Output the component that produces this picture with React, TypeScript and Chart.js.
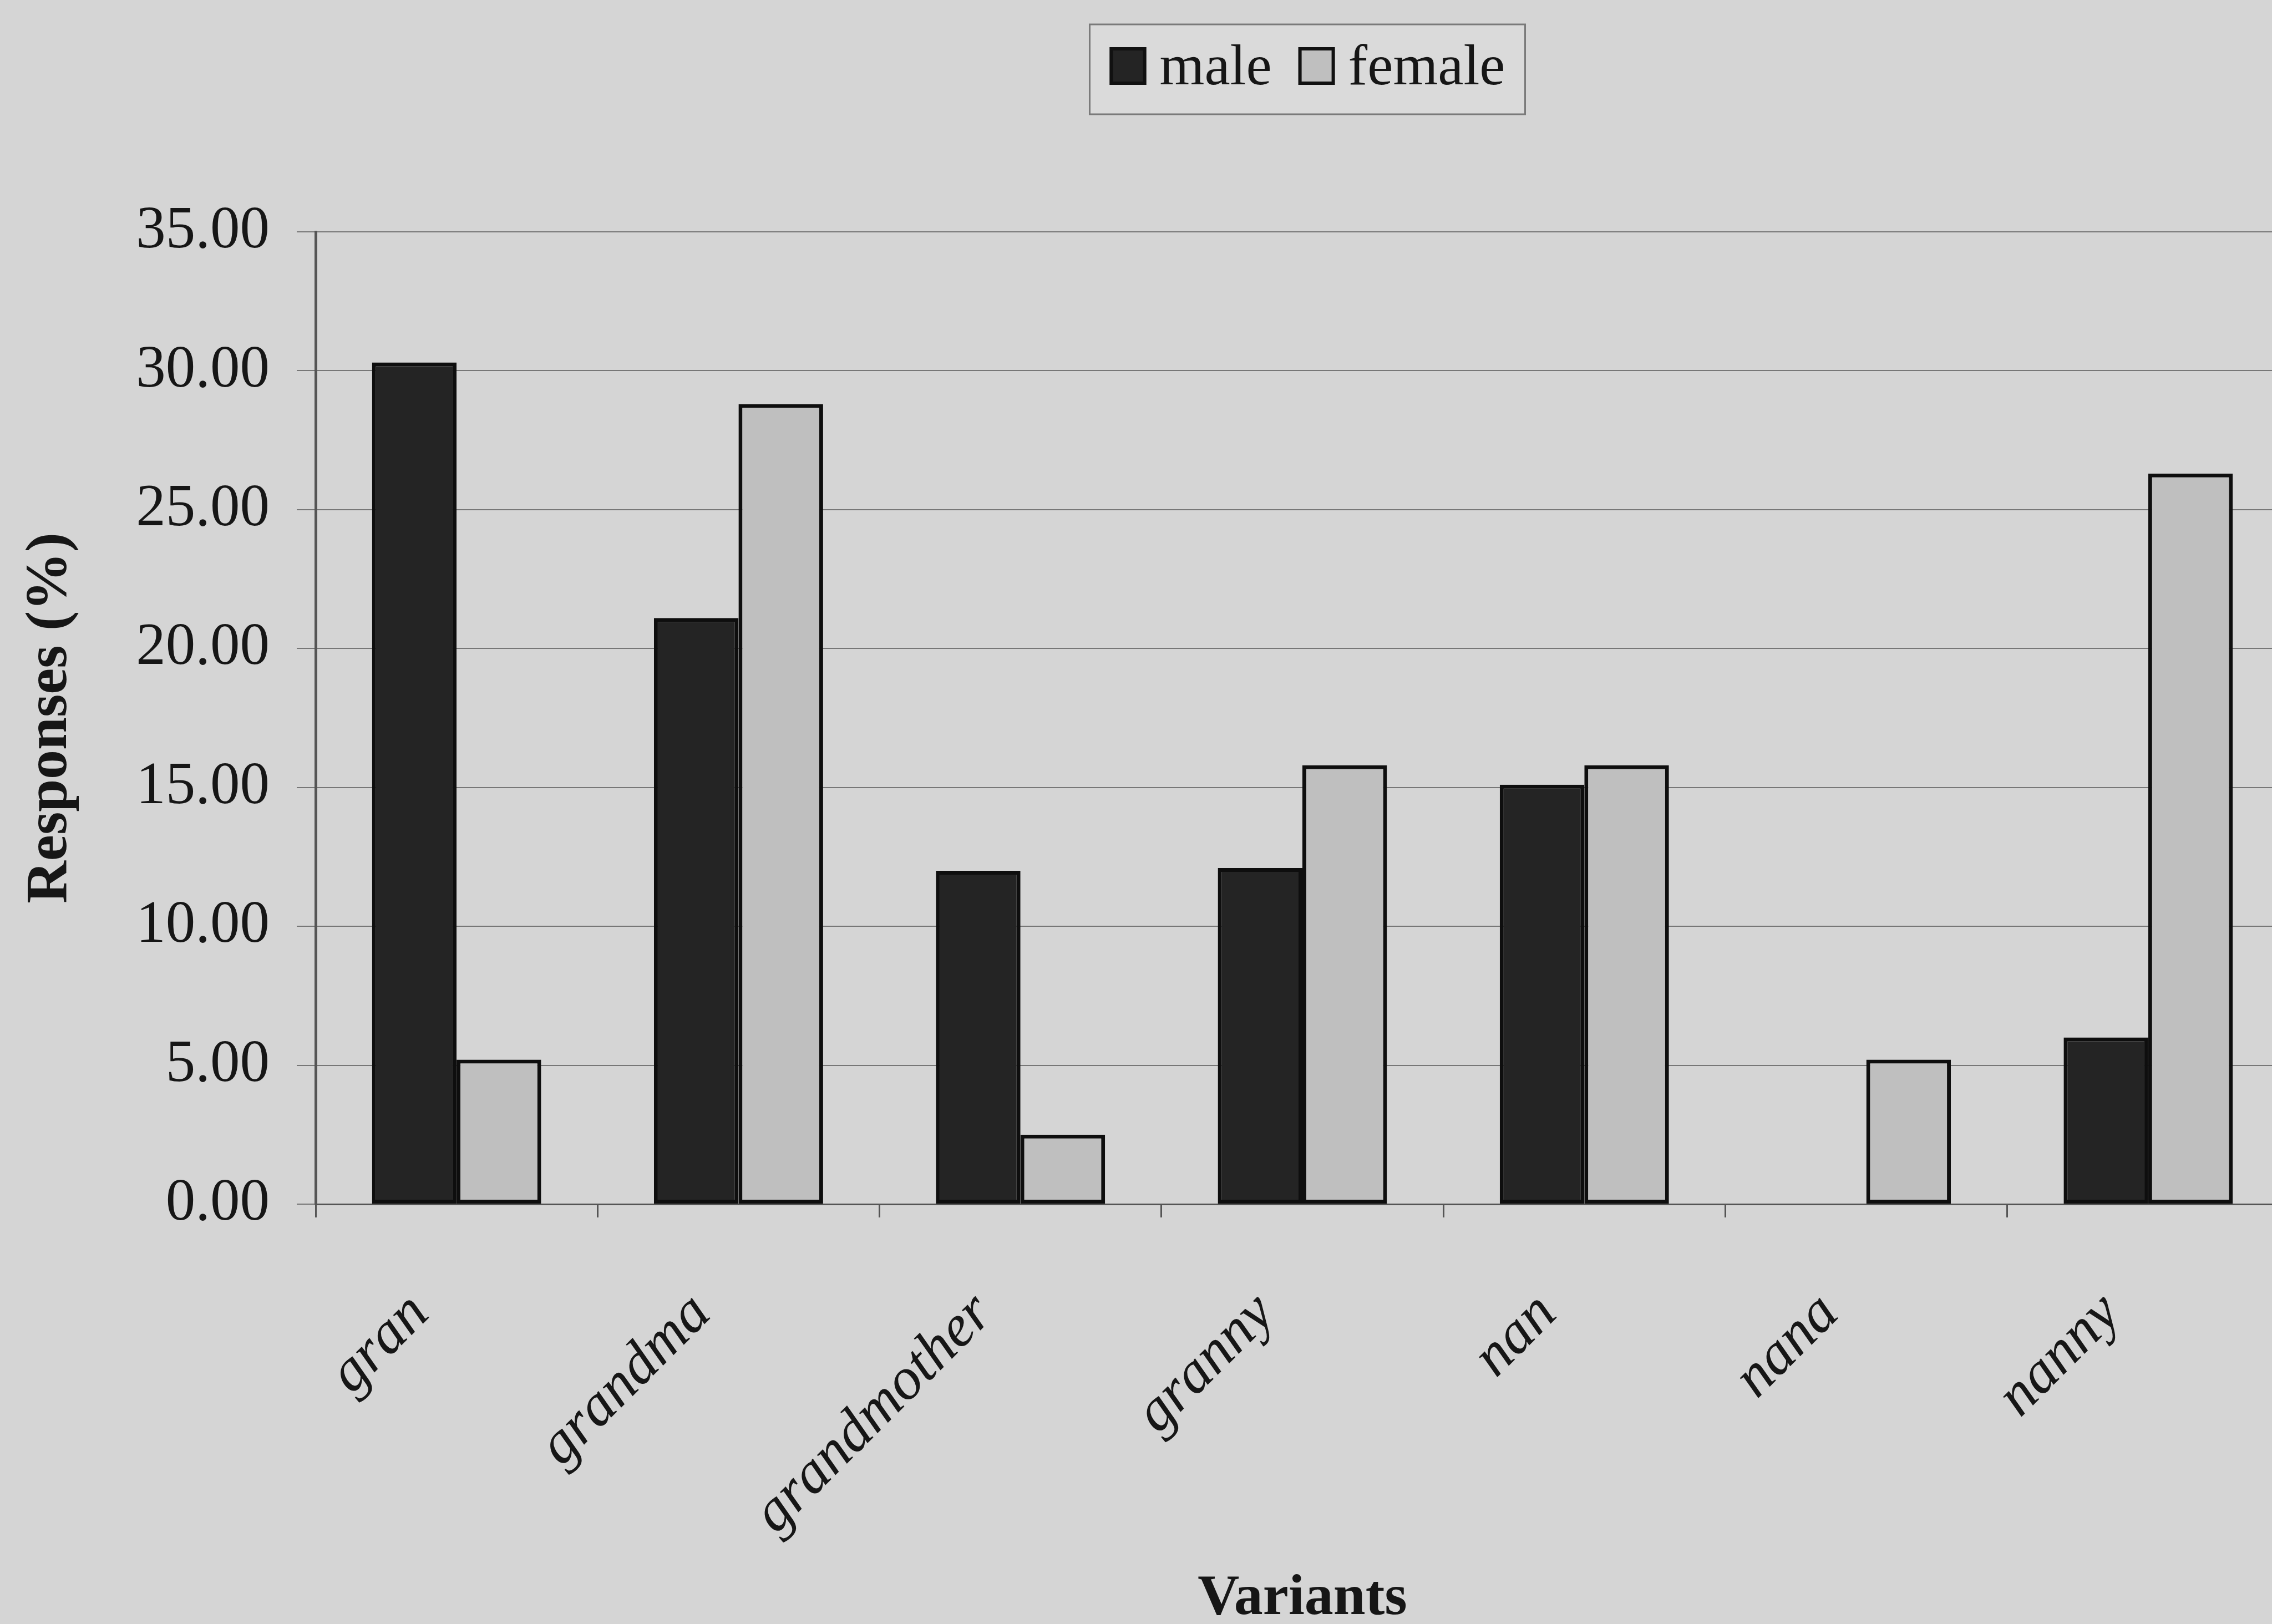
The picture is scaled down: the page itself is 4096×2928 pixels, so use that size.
import React, { useEffect, useRef } from "react";
import { Chart, registerables } from "chart.js";

Chart.register(...registerables);

// Responses (%) per variant, split by speaker sex
const variants = ["gran", "grandma", "grandmother", "granny", "nan", "nana", "nanny"];
const maleResponses = [30.3, 21.1, 12.0, 12.1, 15.1, 0, 6.0];
const femaleResponses = [5.2, 28.8, 2.5, 15.8, 15.8, 5.2, 26.3];
const seriesLabels = ["male", "female"];
const yTickValues = [0, 5, 10, 15, 20, 25, 30, 35];

const SERIF = '"Liberation Serif", "Times New Roman", serif';
const INK = "#161616";
const PAPER = "#d5d5d5";

const CANVAS_W = 4160;
const CANVAS_H = 2960;
const AXIS_X = 569; // left edge of plot area
const PLOT_TOP = 418;
const PLOT_BOTTOM = 2171;
const PLOT_RIGHT = 4127;

// Boxed legend centred over the plot area
const boxedLegend = {
  id: "boxedLegend",
  afterDraw(chart: any) {
    const { ctx, chartArea } = chart;
    const fontSize = 104;
    ctx.save();
    ctx.font = `${fontSize}px ${SERIF}`;
    const items = chart.data.datasets.map((ds: any) => ({
      label: ds.label as string,
      fill: ds.backgroundColor as string,
      w: ctx.measureText(ds.label).width,
    }));
    const sw = 66;
    const sh = 68;
    const gapText = 24;
    const gapItem = 48;
    const padX = 36;
    const content =
      items.reduce((s: number, it: any) => s + sw + gapText + it.w, 0) +
      gapItem * (items.length - 1);
    const boxW = content + padX * 2;
    const cx = (chartArea.left + chartArea.right) / 2 + 9;
    const left = cx - boxW / 2;
    const top = 44;
    const height = 162;
    const midY = top + height / 2;

    ctx.fillStyle = "#dadada";
    ctx.fillRect(left, top, boxW, height);
    ctx.strokeStyle = "#7a7a7a";
    ctx.lineWidth = 3;
    ctx.strokeRect(left, top, boxW, height);

    let x = left + padX;
    items.forEach((it: any) => {
      ctx.fillStyle = it.fill;
      ctx.fillRect(x, midY - sh / 2 - 6, sw, sh);
      ctx.strokeStyle = "#111";
      ctx.lineWidth = 6;
      ctx.strokeRect(x + 3, midY - sh / 2 - 6 + 3, sw - 6, sh - 6);
      x += sw + gapText;
      ctx.fillStyle = INK;
      ctx.textAlign = "left";
      ctx.textBaseline = "middle";
      ctx.fillText(it.label, x, midY);
      x += it.w + gapItem;
    });
    ctx.restore();
  },
};

export default function App() {
  const canvasRef = useRef<HTMLCanvasElement | null>(null);

  useEffect(() => {
    if (!canvasRef.current) return;
    const chart = new Chart(canvasRef.current, {
      type: "bar",
      data: {
        labels: variants,
        datasets: [
          {
            label: seriesLabels[0],
            data: maleResponses,
            backgroundColor: "#242424",
            borderColor: "#0e0e0e",
            borderWidth: 7,
            borderSkipped: false,
            barPercentage: 1,
            categoryPercentage: 0.6,
          },
          {
            label: seriesLabels[1],
            data: femaleResponses,
            backgroundColor: "#bfbfbf",
            borderColor: "#0e0e0e",
            borderWidth: 7,
            borderSkipped: false,
            barPercentage: 1,
            categoryPercentage: 0.6,
          },
        ],
      },
      options: {
        animation: false,
        responsive: true,
        maintainAspectRatio: false,
        devicePixelRatio: 1,
        layout: {
          padding: { top: PLOT_TOP, right: CANVAS_W - PLOT_RIGHT, left: 0, bottom: 0 },
        },
        plugins: {
          legend: { display: false },
          tooltip: { enabled: false },
        },
        scales: {
          x: {
            afterFit: (s: any) => {
              s.height = CANVAS_H - PLOT_BOTTOM;
            },
            ticks: {
              autoSkip: false,
              maxRotation: 45,
              minRotation: 45,
              padding: 112,
              labelOffset: -66,
              color: INK,
              font: { family: SERIF, size: 107, style: "italic" },
            },
            grid: {
              drawOnChartArea: false,
              offset: true,
              tickLength: 24,
              color: "#555555",
              lineWidth: 3,
            },
            border: { color: "#555555", width: 3 },
            title: {
              display: true,
              text: "Variants",
              color: INK,
              font: { family: SERIF, size: 104, weight: "bold", lineHeight: 1.2 },
              padding: { top: 0, bottom: 14 },
            },
          },
          y: {
            min: 0,
            max: 35,
            afterFit: (s: any) => {
              s.width = AXIS_X;
            },
            afterBuildTicks: (s: any) => {
              s.ticks = yTickValues.map((v) => ({ value: v }));
            },
            ticks: {
              padding: 49,
              color: INK,
              font: { family: SERIF, size: 107 },
              callback: (v: any) => Number(v).toFixed(2),
            },
            grid: {
              color: "#777777",
              lineWidth: 2,
              tickLength: 34,
            },
            border: { color: "#555555", width: 5 },
            title: {
              display: true,
              text: "Responses (%)",
              color: INK,
              font: { family: SERIF, size: 106, weight: "bold", lineHeight: 1.2 },
              padding: { top: 28, bottom: 0 },
            },
          },
        },
      },
      plugins: [boxedLegend],
    });
    return () => chart.destroy();
  }, []);

  return (
    <div
      style={{
        position: "fixed",
        left: 0,
        top: 0,
        width: 4096,
        height: 2928,
        overflow: "hidden",
        background: PAPER,
      }}
    >
      <div style={{ position: "absolute", left: 0, top: 0, width: CANVAS_W, height: CANVAS_H }}>
        <canvas ref={canvasRef} />
      </div>
    </div>
  );
}
